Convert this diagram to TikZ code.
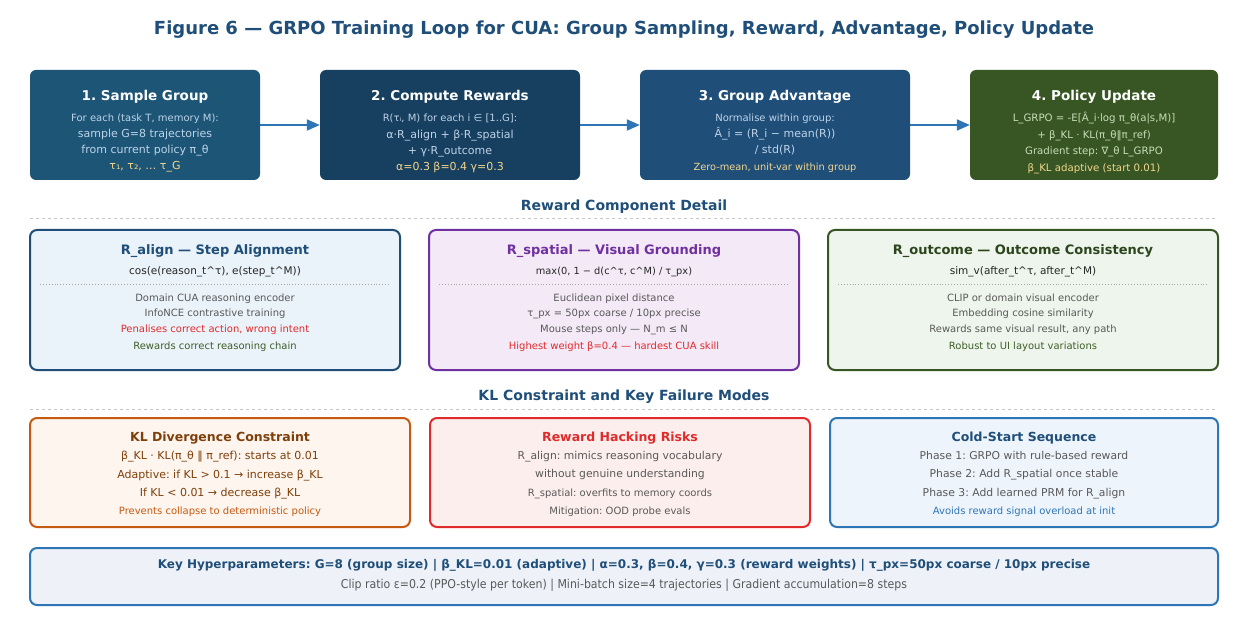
\documentclass[tikz,border=0pt]{standalone}
\usepackage{fontspec}
\setmainfont{DejaVu Sans}
\newfontfamily\condfont{DejaVu Sans Condensed}
\usetikzlibrary{arrows.meta}

\definecolor{headblue}{HTML}{1F4E79}
\definecolor{sampleblue}{HTML}{1D5577}
\definecolor{rewardblue}{HTML}{173F5F}
\definecolor{advblue}{HTML}{1F4E79}
\definecolor{policygreen}{HTML}{375623}
\definecolor{arrowblue}{HTML}{2E75B6}
\definecolor{paleblue}{HTML}{BDD3E8}
\definecolor{palegreen}{HTML}{C8DDB8}
\definecolor{gold}{HTML}{F2D58C}
\definecolor{alignfill}{HTML}{EAF2FA}
\definecolor{spatialline}{HTML}{7030A0}
\definecolor{spatialfill}{HTML}{F3E9F7}
\definecolor{outcomefill}{HTML}{EEF5EC}
\definecolor{hotred}{HTML}{E02B2B}
\definecolor{leafgreen}{HTML}{3F5F28}
\definecolor{bodygrey}{HTML}{595959}
\definecolor{burnt}{HTML}{C55A11}
\definecolor{brown}{HTML}{7F3F0A}
\definecolor{klfill}{HTML}{FDF5EE}
\definecolor{hackfill}{HTML}{FDEEEE}
\definecolor{coldfill}{HTML}{EEF4FC}
\definecolor{hyperfill}{HTML}{EEF2F8}

\newcommand\fsz[1]{\fontsize{#1}{\baselineskip}\selectfont}
\frenchspacing

\begin{document}
\begin{tikzpicture}[x=1pt, y=-1pt,
  stepbox/.style={rounded corners=6pt, minimum height=110pt},
  steptitle/.style={text=white, font=\fontsize{13.5}{16}\selectfont\bfseries},
  stepbody/.style={align=center, font=\fontsize{11}{16.3}\selectfont},
  flow/.style={draw=arrowblue, line width=2pt, -{Triangle[length=13pt,width=11pt]}},
  section/.style={text=headblue, font=\fontsize{14}{16}\selectfont\bfseries},
  rule/.style={draw=black!22, line width=1pt, dash pattern=on 3pt off 3pt},
  detailbox/.style={draw, line width=2pt, rounded corners=7pt, minimum height=140pt},
  detailtitle/.style={font=\fontsize{13}{16}\selectfont\bfseries},
  formula/.style={text=black!85, font=\fontsize{10.5}{14}\selectfont},
  detailbody/.style={align=center, text=bodygrey, font=\fontsize{10}{15.5}\selectfont},
  sepline/.style={draw=black!35, line width=0.9pt, dotted},
  riskbox/.style={draw, line width=2pt, rounded corners=7pt, minimum height=109pt},
  riskbody/.style={align=center, font=\fontsize{10.8}{18.3}\selectfont}
]
\useasboundingbox (0,0) rectangle (1248,620);

\node[text=headblue, font=\fontsize{18}{22}\selectfont\bfseries] (title) at (624,30)
  {Figure 6 — GRPO Training Loop for CUA: Group Sampling, Reward, Advantage, Policy Update};

% training loop
\node[stepbox, fill=sampleblue, minimum width=230pt] (sample) at (145,125) {};
\node[stepbox, fill=rewardblue, minimum width=260pt] (reward) at (450,125) {};
\node[stepbox, fill=advblue, minimum width=270pt] (adv) at (775,125) {};
\node[stepbox, fill=policygreen, minimum width=248pt] (policy) at (1094,125) {};

\node[steptitle] (sampleT) at (145,97) {1. Sample Group};
\node[stepbody, text=paleblue] (sampleB) at (145,143)
  {{\fsz{10}For each (task T, memory M):}\\ sample G=8 trajectories\\ from current policy π\_θ\\ \textcolor{gold}{τ₁, τ₂, … τ\_G}};
\node[steptitle] (rewardT) at (450,97) {2. Compute Rewards};
\node[stepbody, text=paleblue] (rewardB) at (450,143.5)
  {{\fsz{10}R(τᵢ, M) for each i ∈ [1..G]:}\\ α·R\_align + β·R\_spatial\\ + γ·R\_outcome\\ \textcolor{gold}{α=0.3 β=0.4 γ=0.3}};
\node[steptitle] (advT) at (775,97) {3. Group Advantage};
\node[stepbody, text=paleblue] (advB) at (775,143)
  {{\fsz{10}Normalise within group:}\\ Â\_i = (R\_i − mean(R))\\ / std(R)\\ \textcolor{gold}{\fsz{9.8}Zero-mean, unit-var within group}};
\node[steptitle] (policyT) at (1094,97) {4. Policy Update};
\node[stepbody, text=palegreen, font=\fontsize{10.2}{16.7}\selectfont] (policyB) at (1094,143)
  {L\_GRPO = -E[Â\_i·log π\_θ(a|s,M)]\\ + β\_KL · KL(π\_θ‖π\_ref)\\ Gradient step: ∇\_θ L\_GRPO\\ \textcolor{gold}{β\_KL adaptive (start 0.01)}};

\draw[flow] (sample) -- (reward);
\draw[flow] (reward) -- (adv);
\draw[flow] (adv) -- (policy);

% reward components
\node[section] (compT) at (624,207) {Reward Component Detail};
\draw[rule] (30,219) -- (1218,219);

\node[detailbox, draw=headblue, fill=alignfill, minimum width=370pt] (align) at (215,300) {};
\node[detailtitle, text=headblue] (alignT) at (215,251) {R\_align — Step Alignment};
\node[formula] (alignF) at (215,272) {cos(e(reason\_t\textasciicircum τ), e(step\_t\textasciicircum M))};
\draw[sepline] (40,284) -- (390,284);
\node[detailbody] (alignB) at (215,322.5)
  {Domain CUA reasoning encoder\\ InfoNCE contrastive training\\ \textcolor{hotred}{Penalises correct action, wrong intent}\\[2pt] \textcolor{leafgreen}{Rewards correct reasoning chain}};

\node[detailbox, draw=spatialline, fill=spatialfill, minimum width=370pt] (spatial) at (614,300) {};
\node[detailtitle, text=spatialline] (spatialT) at (614,251) {R\_spatial — Visual Grounding};
\node[formula, font=\fontsize{9.8}{14}\selectfont] (spatialF) at (614,272) {max(0, 1 − d(c\textasciicircum τ, c\textasciicircum M) / τ\_px)};
\draw[sepline] (439,284) -- (789,284);
\node[detailbody] (spatialB) at (614,322.5)
  {Euclidean pixel distance\\ τ\_px = 50px coarse / 10px precise\\ Mouse steps only — N\_m ≤ N\\[2pt] \textcolor{hotred}{Highest weight β=0.4 — hardest CUA skill}};

\node[detailbox, draw=policygreen, fill=outcomefill, minimum width=390pt] (outcome) at (1023,300) {};
\node[detailtitle, text=policygreen!80!black] (outcomeT) at (1023,251) {R\_outcome — Outcome Consistency};
\node[formula] (outcomeF) at (1023,272) {sim\_v(after\_t\textasciicircum τ, after\_t\textasciicircum M)};
\draw[sepline] (838,284) -- (1208,284);
\node[detailbody] (outcomeB) at (1023,322.5)
  {CLIP or domain visual encoder\\ Embedding cosine similarity\\ Rewards same visual result, any path\\[2pt] \textcolor{leafgreen}{Robust to UI layout variations}};

% constraints and failure modes
\node[section] (failT) at (624,397) {KL Constraint and Key Failure Modes};
\draw[rule] (30,409) -- (1218,409);

\node[riskbox, draw=burnt, fill=klfill, minimum width=380pt] (kl) at (220,472.5) {};
\node[detailtitle, text=brown, font=\fontsize{12.5}{16}\selectfont\bfseries] (klT) at (220,438) {KL Divergence Constraint};
\node[riskbody, text=brown, font=\fontsize{11}{18.3}\selectfont] (klB) at (220,484)
  {β\_KL · KL(π\_θ ‖ π\_ref): starts at 0.01\\ Adaptive: if KL > 0.1 → increase β\_KL\\ If KL < 0.01 → decrease β\_KL\\ \textcolor{burnt}{\fsz{10}Prevents collapse to deterministic policy}};

\node[riskbox, draw=hotred, fill=hackfill, minimum width=380pt] (hack) at (620,472.5) {};
\node[detailtitle, text=hotred, font=\fontsize{12.5}{16}\selectfont\bfseries] (hackT) at (620,438) {Reward Hacking Risks};
\node[riskbody, text=bodygrey] (hackB) at (620,484)
  {R\_align: mimics reasoning vocabulary\\ without genuine understanding\\ {\fsz{10}R\_spatial: overfits to memory coords}\\ {\fsz{10}Mitigation: OOD probe evals}};

\node[riskbox, draw=arrowblue, fill=coldfill, minimum width=388pt] (cold) at (1024,472.5) {};
\node[detailtitle, text=headblue, font=\fontsize{12.5}{16}\selectfont\bfseries] (coldT) at (1024,438) {Cold-Start Sequence};
\node[riskbody, text=bodygrey] (coldB) at (1024,484)
  {Phase 1: GRPO with rule-based reward\\ Phase 2: Add R\_spatial once stable\\ Phase 3: Add learned PRM for R\_align\\ \textcolor{arrowblue}{\fsz{10}Avoids reward signal overload at init}};

% hyperparameters
\node[draw=arrowblue, line width=2pt, rounded corners=7pt, fill=hyperfill, minimum width=1188pt, minimum height=57pt] (hyper) at (624,576.5) {};
\node[text=headblue, font=\fontsize{12}{14}\selectfont\bfseries] (hyperA) at (624,565)
  {Key Hyperparameters: G=8 (group size) | β\_KL=0.01 (adaptive) | α=0.3, β=0.4, γ=0.3 (reward weights) | τ\_px=50px coarse / 10px precise};
\node[text=bodygrey, font=\condfont\fontsize{12.2}{14}\selectfont] (hyperB) at (624,585)
  {Clip ratio ε=0.2 (PPO-style per token) | Mini-batch size=4 trajectories | Gradient accumulation=8 steps};
\end{tikzpicture}
\end{document}
